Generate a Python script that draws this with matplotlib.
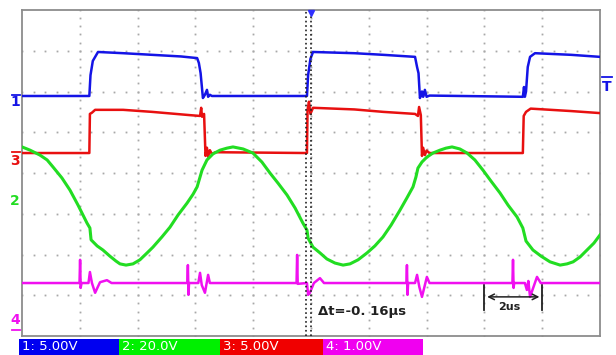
import numpy as np
import matplotlib.pyplot as plt
from matplotlib.patches import Rectangle
from matplotlib.lines import Line2D

# 时间 (us), 幅值 (格, 底部为0)
ch1_t = [0, 2.33, 2.37, 2.45, 2.63, 3.5, 4.5, 5.5, 6.06, 6.12, 6.18, 6.26, 6.33, 6.40, 6.44, 6.50, 6.57,
         9.86, 9.90, 9.98, 10.07, 11.5, 12.5, 13.60, 13.67, 13.72, 13.77, 13.84, 13.88, 13.94, 14.0, 14.1,
         17.33, 17.37, 17.40, 17.44, 17.50, 17.58, 17.75, 19.0, 20.0]
ch1_v = [5.89, 5.89, 6.40, 6.75, 6.97, 6.94, 6.90, 6.86, 6.82, 6.70, 6.45, 5.84, 5.92, 6.04, 5.87, 5.92, 5.89,
         5.89, 6.40, 6.80, 6.97, 6.94, 6.90, 6.85, 6.60, 6.45, 5.84, 6.00, 5.87, 6.04, 5.87, 5.90,
         5.87, 6.11, 5.87, 6.00, 6.60, 6.85, 6.94, 6.90, 6.85]

ch3_t = [0, 2.33, 2.35, 2.42, 2.53, 3.5, 4.5, 5.81, 6.16, 6.20, 6.23, 6.30, 6.35, 6.40, 6.44, 6.50, 6.57, 6.7,
         9.86, 9.88, 9.93, 9.98, 10.07, 11.5, 12.5, 13.60, 13.70, 13.74, 13.80, 13.84, 13.88, 13.94, 14.0, 14.1,
         17.33, 17.36, 17.44, 17.6, 19.0, 20.0]
ch3_v = [4.49, 4.49, 5.45, 5.48, 5.55, 5.55, 5.50, 5.42, 5.40, 5.60, 5.38, 5.45, 4.42, 4.62, 4.40, 4.56, 4.47, 4.51,
         4.49, 5.55, 5.75, 5.45, 5.60, 5.56, 5.50, 5.45, 5.40, 5.62, 5.42, 4.42, 4.62, 4.44, 4.55, 4.49,
         4.49, 5.40, 5.50, 5.58, 5.52, 5.47]

ch2_t = [0, 0.28, 0.62, 0.87, 1.07, 1.38, 1.66, 1.94, 2.25, 2.35, 2.39, 2.60, 2.80, 3.04, 3.25, 3.39, 3.60,
         3.84, 4.08, 4.33, 4.53, 4.84, 5.12, 5.40, 5.71, 5.92, 6.06, 6.16, 6.23, 6.40, 6.61, 6.85, 7.09, 7.30,
         7.65, 7.99, 8.30, 8.58, 8.86, 9.17, 9.45, 9.72, 9.86, 9.90, 10.07, 10.31, 10.55, 10.83, 11.11, 11.35,
         11.63, 11.94, 12.21, 12.49, 12.77, 13.08, 13.32, 13.53, 13.63, 13.70, 13.84, 14.01, 14.22, 14.46,
         14.67, 14.88, 15.15, 15.40, 15.67, 15.95, 16.23, 16.54, 16.82, 17.13, 17.33, 17.44, 17.68, 17.96,
         18.27, 18.62, 18.86, 19.07, 19.31, 19.55, 19.79, 20.0]
ch2_v = [4.64, 4.56, 4.44, 4.32, 4.15, 3.88, 3.58, 3.21, 2.77, 2.65, 2.36, 2.21, 2.11, 1.96, 1.84, 1.77, 1.74,
         1.77, 1.87, 2.04, 2.18, 2.43, 2.67, 2.97, 3.26, 3.48, 3.66, 3.90, 4.07, 4.32, 4.47, 4.56, 4.61, 4.64,
         4.59, 4.49, 4.27, 4.00, 3.75, 3.46, 3.14, 2.77, 2.60, 2.40, 2.18, 2.04, 1.89, 1.79, 1.74, 1.77,
         1.87, 2.04, 2.21, 2.43, 2.72, 3.09, 3.39, 3.66, 3.90, 4.12, 4.27, 4.39, 4.49, 4.56,
         4.61, 4.64, 4.59, 4.49, 4.32, 4.07, 3.80, 3.51, 3.21, 2.92, 2.65, 2.33, 2.11, 1.96,
         1.82, 1.74, 1.77, 1.82, 1.94, 2.11, 2.28, 2.48]

ch4_t = [0, 1.99, 2.01, 2.03, 2.06, 2.30, 2.35, 2.42, 2.53, 2.62, 2.70, 2.94, 3.1,
         5.72, 5.74, 5.76, 5.78, 6.10, 6.16, 6.22, 6.33, 6.44, 6.50,
         9.50, 9.52, 9.54, 9.86, 9.90, 9.96, 10.10, 10.31, 10.45,
         13.30, 13.32, 13.34, 13.36, 13.60, 13.67, 13.75, 13.84, 14.01, 14.1,
         16.97, 16.99, 17.01, 17.03, 17.40, 17.47, 17.52, 17.58, 17.82, 17.95, 20.0]
ch4_v = [1.30, 1.30, 1.87, 1.18, 1.30, 1.30, 1.57, 1.30, 1.06, 1.20, 1.32, 1.37, 1.30,
         1.30, 1.74, 1.01, 1.30, 1.30, 1.55, 1.25, 1.06, 1.50, 1.30,
         1.30, 1.99, 1.28, 1.30, 1.01, 1.06, 1.30, 1.42, 1.30,
         1.30, 1.74, 1.01, 1.30, 1.30, 1.50, 1.20, 0.96, 1.45, 1.30,
         1.30, 1.87, 1.18, 1.30, 1.30, 1.13, 1.35, 0.96, 1.45, 1.30, 1.30]

bar_labels = ['1: 5.00V', '2: 20.0V', '3: 5.00V', '4: 1.00V']
bar_colors = ['#0000f0', '#00f000', '#f00000', '#f000f0']

W, H = 616, 355
fig = plt.figure(figsize=(W / 100, H / 100), dpi=100)
ax = fig.add_axes([22 / W, 19 / H, 578 / W, 326 / H])
ax.set_xlim(0, 20)
ax.set_ylim(0, 8)
ax.set_xticks([])
ax.set_yticks([])
for s in ax.spines.values():
    s.set_color('#8c8c8c')
    s.set_linewidth(1.3)

# 网格点
gx = np.arange(0, 20.01, 0.4)
gy = np.arange(0, 8.01, 0.2)
for xv in range(2, 20, 2):
    ax.plot(np.full(len(gy), xv), gy, ls='none', marker='s', ms=1.3, mew=0, color='#a8a8a8', zorder=1)
for yv in range(1, 8):
    ax.plot(gx, np.full(len(gx), yv), ls='none', marker='s', ms=1.3, mew=0, color='#a8a8a8', zorder=1)

# 波形
ax.plot(ch4_t, ch4_v, color='#f010f0', lw=1.8, zorder=3)
ax.plot(ch3_t, ch3_v, color='#e81010', lw=1.8, zorder=3)
ax.plot(ch1_t, ch1_v, color='#1414e6', lw=1.8, zorder=3)
ax.plot(ch2_t, ch2_v, color='#22dd22', lw=2.2, zorder=4, solid_joinstyle='round')

# 光标
ax.axvline(9.84, color='#202020', ls=':', lw=1.2, zorder=5)
ax.axvline(10.0, color='#202020', ls=':', lw=1.2, zorder=5)
ax.plot(10.0, 7.93, marker='v', color='#3030ff', ms=5, clip_on=False, zorder=6)

ax.text(10.24, 0.61, 'Δt=-0. 16µs', fontsize=9.5, fontweight='bold', color='#202020', va='center', ha='left')
ax.plot([16.0, 16.0], [0.64, 1.25], color='#202020', lw=1.3)
ax.plot([18.0, 18.0], [0.64, 1.25], color='#202020', lw=1.3)
ax.annotate('', xy=(16.0, 0.96), xytext=(18.0, 0.96),
            arrowprops=dict(arrowstyle='<->', color='#202020', lw=1.1))
ax.text(16.87, 0.72, '2us', fontsize=8, fontweight='bold', color='#202020', ha='center', va='center')


def px(x, y):
    return x / W, 1 - y / H


# 左侧通道标记
marks = [('1', 102, 95, '#1414e6'), ('3', 161, 152, '#e81010'), ('2', 201, None, '#22dd22'), ('4', 320, 330, '#f010f0')]
for lab, ty, dy, c in marks:
    fig.text(*px(15, ty), lab, color=c, fontsize=10, fontweight='bold', ha='center', va='center')
    if dy is not None:
        fig.add_artist(Line2D([12 / W, 20 / W], [1 - dy / H, 1 - dy / H], color=c, lw=1.3))
fig.text(*px(607, 87), 'T', color='#1414e6', fontsize=10, fontweight='bold', ha='center', va='center')
fig.add_artist(Line2D([602 / W, 612 / W], [1 - 77 / H, 1 - 77 / H], color='#1414e6', lw=1.3))

# 底部通道栏
edges = [19, 119, 220, 323, 423]
for i in range(4):
    fig.add_artist(Rectangle((edges[i] / W, 0), (edges[i + 1] - edges[i]) / W, 16 / H,
                             transform=fig.transFigure, color=bar_colors[i], lw=0))
    fig.text((edges[i] + 3) / W, 8 / H, bar_labels[i], color='white', fontsize=9.5,
             ha='left', va='center', family='DejaVu Sans')

fig.savefig('out.png', dpi=100)
